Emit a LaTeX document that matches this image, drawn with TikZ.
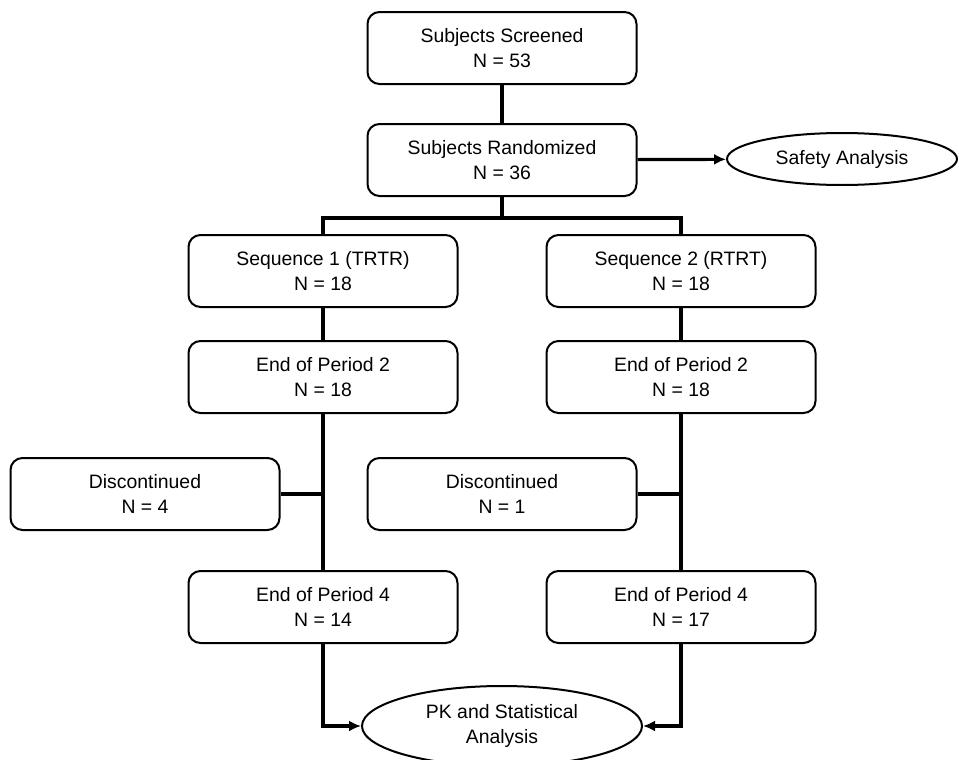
\documentclass[tikz,border=0pt]{standalone}
\usepackage{fontspec}
\setmainfont{Liberation Sans}
\usetikzlibrary{shapes.geometric,arrows.meta}
\begin{document}
\begin{tikzpicture}[x=0.5pt,y=-0.5pt,
	every node/.style={fill=white,align=center,font=\fontsize{9.7}{12.3}\selectfont},
	flowbox/.style={draw,rounded corners=6pt,line width=1pt,minimum width=134.5pt,minimum height=36pt},
	oval/.style={draw,ellipse,line width=1pt,inner sep=0pt},
	link/.style={line width=1.6pt},
	arr/.style={line width=1.6pt,-{Latex[length=6pt,width=5.5pt]}}]
      \useasboundingbox (0,0) rectangle (959,760);
      \node [flowbox] (screen) at (502,48)  {Subjects Screened\\N = 53};
      \node [flowbox] (rand)   at (502,160) {Subjects Randomized\\N = 36};
      \node [oval,minimum width=115pt,minimum height=26pt] (safety) at (842,159) {Safety Analysis};
      \node [flowbox] (seq1)   at (323,271) {Sequence 1 (TRTR)\\N = 18};
      \node [flowbox] (seq2)   at (681,271) {Sequence 2 (RTRT)\\N = 18};
      \node [flowbox] (endA1)  at (323,377) {End of Period 2\\N = 18};
      \node [flowbox] (endB1)  at (681,377) {End of Period 2\\N = 18};
      \node [flowbox] (disc1)  at (145,494) {Discontinued\\N = 4};
      \node [flowbox] (disc2)  at (502,494) {Discontinued\\N = 1};
      \node [flowbox] (endA2)  at (323,607) {End of Period 4\\N = 14};
      \node [flowbox] (endB2)  at (681,607) {End of Period 4\\N = 17};
      \node [oval,minimum width=140pt,minimum height=40pt] (pk) at (502,726) {PK and Statistical\\Analysis};
      \coordinate (split) at (502,218);

      \draw [link] (screen) -- (rand);
      \draw [arr] (rand) -- (safety);
      \draw [link] (rand) -- (split);
      \draw [link] (seq1.north) |- (split) -| (seq2.north);
      \draw [link] (seq1) -- (endA1);
      \draw [link] (seq2) -- (endB1);
      \draw [link] (endA1) -- (endA2);
      \draw [link] (endB1) -- (endB2);
      \draw [link] (disc1.east) -- (disc1.east -| endA1.south);
      \draw [link] (disc2.east) -- (disc2.east -| endB1.south);
      \draw [arr] (endA2.south) |- (pk.west);
      \draw [arr] (endB2.south) |- (pk.east);
    \end{tikzpicture}
\end{document}
